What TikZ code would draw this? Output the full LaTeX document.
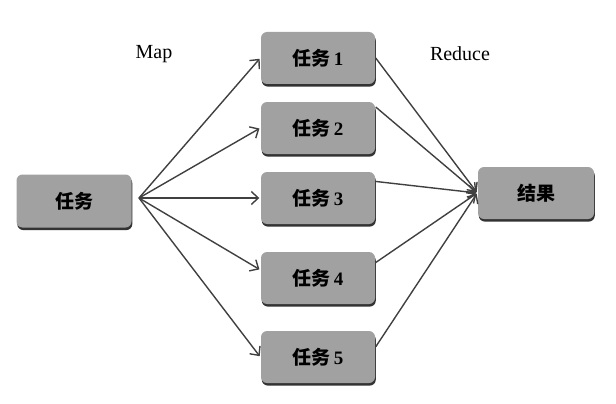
\documentclass[tikz,border=0pt]{standalone}
\usepackage{fontspec}
\usepackage{tikz}
\usetikzlibrary{arrows.meta,shadows}
\setmainfont{Liberation Serif}
\newfontfamily\cjk{Noto Sans CJK SC}

\begin{document}
\begin{tikzpicture}[x=1pt,y=-1pt,->,>={Straight Barb[length=7pt,width=13pt,line width=1.4pt]},
        line width=1.4pt,draw=black!75,
        box/.style={rectangle,rounded corners=6pt,fill=black!37,draw=none,
            minimum width=114pt,minimum height=52pt,
            drop shadow={shadow xshift=0.8pt,shadow yshift=-2.6pt,fill=black!80,opacity=1},
            font=\bfseries\fontsize{19}{19}\selectfont},
        lbl/.style={font=\fontsize{20}{20}\selectfont}]

    \useasboundingbox (0,0) rectangle (616,404);

    \node[box, minimum width=115pt, minimum height=53pt] (main) at (74,201) {{\cjk 任务}};
    \node[box] (t1) at (318,58) {{\cjk 任务}\,1};
    \node[box] (t2) at (318,128) {{\cjk 任务}\,2};
    \node[box] (t3) at (318,198) {{\cjk 任务}\,3};
    \node[box] (t4) at (318,278) {{\cjk 任务}\,4};
    \node[box] (t5) at (318,357) {{\cjk 任务}\,5};
    \node[box, minimum width=116pt] (res) at (536,193) {{\cjk 结果}};

    \node[lbl] (map) at (154,54) {Map};
    \node[lbl] (reduce) at (460,54) {Reduce};

    \coordinate (fork) at (139,198);

    \path[shorten >=1pt]
    (fork) edge (t1.west)
    (fork) edge (t2.west)
    (fork) edge (t3.west)
    (fork) edge (t4.172)
    (fork) edge (t5.west)
    (t1.east) edge (res.west)
    (t2.20) edge (res.west)
    (t3.16) edge (res.west)
    (t4.15) edge (res.west)
    (t5.10) edge (res.west);

\end{tikzpicture}
\end{document}
